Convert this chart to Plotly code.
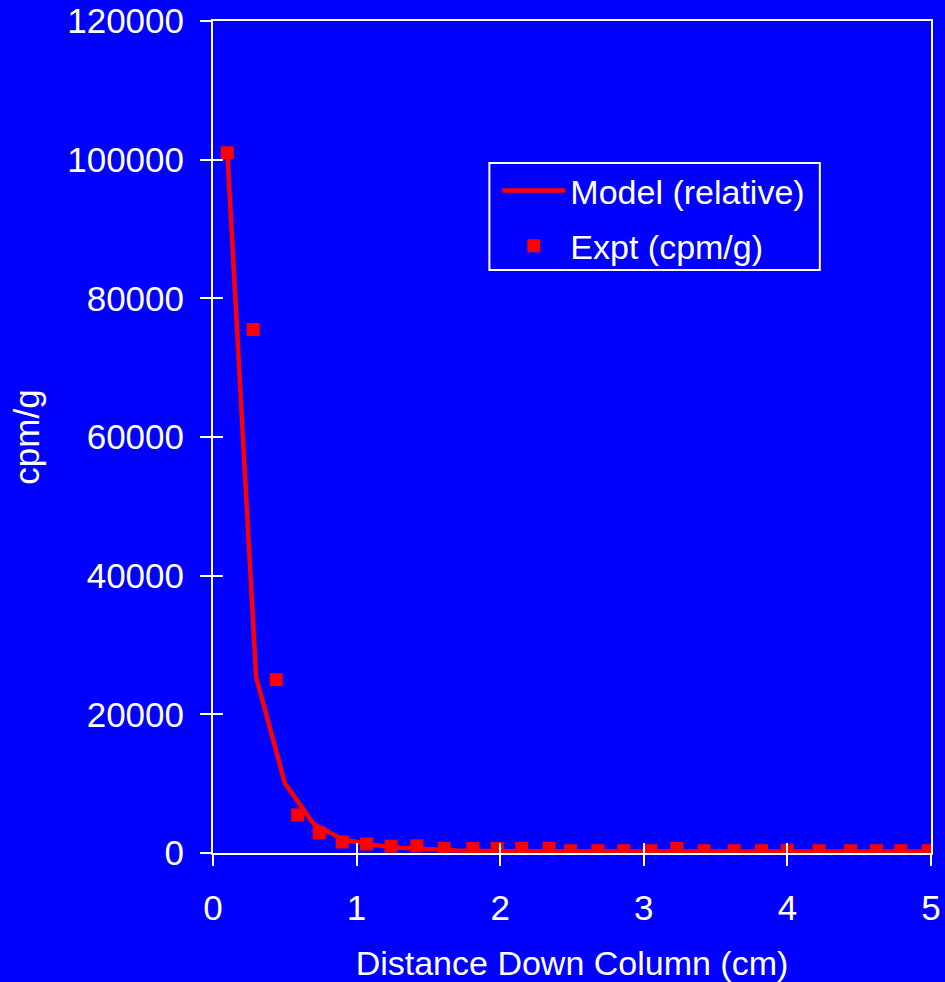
import plotly.graph_objects as go

# Experimental activity along the column (cpm/g)
expt_x = [0.10, 0.28, 0.44, 0.59, 0.74, 0.90, 1.07, 1.24, 1.42, 1.61, 1.81, 1.98,
          2.15, 2.34, 2.49, 2.68, 2.86, 3.05, 3.23, 3.42, 3.63, 3.82, 4.00, 4.22,
          4.44, 4.62, 4.79, 4.98]
expt_y = [101000, 75500, 25000, 5500, 2900, 1600, 1300, 980, 1030, 640, 640, 660,
          680, 680, 330, 330, 330, 330, 680, 330, 330, 330, 330, 330,
          330, 330, 330, 330]

# Model curve (relative scale)
model_x = [0.1, 0.3, 0.5, 0.7, 0.9, 1.1, 1.3, 1.5, 1.7, 2.0, 2.5, 3.0, 3.5, 4.0, 4.5, 5.0]
model_y = [101000, 25400, 10100, 4200, 2000, 1200, 750, 500, 350, 250, 200, 200, 200, 200, 200, 200]

x_ticks = [0, 1, 2, 3, 4, 5]
y_ticks = [0, 20000, 40000, 60000, 80000, 100000, 120000]

BLUE = "#0000FF"
RED = "#FF0000"
WHITE = "#FFFFFF"
FONT = "Liberation Sans, Arial, sans-serif"
FS = 35

fig = go.Figure()
fig.add_trace(go.Scatter(x=model_x, y=model_y, mode="lines", name="Model (relative)",
                         legendgroup="model",
                         line=dict(color=RED, width=4.5)))
fig.add_trace(go.Scatter(x=expt_x, y=expt_y, mode="markers", name="Expt (cpm/g)",
                         legendgroup="expt",
                         marker=dict(color=RED, symbol="square", size=13, line=dict(width=0))))
# invisible trace to carry the secondary (inside-tick) axes
fig.add_trace(go.Scatter(x=[0], y=[0], xaxis="x2", yaxis="y2", mode="markers",
                         marker=dict(opacity=0), showlegend=False, hoverinfo="skip"))

axis_common = dict(showgrid=False, zeroline=False, linecolor=WHITE, linewidth=2,
                   tickcolor=WHITE, tickwidth=2, color=WHITE, automargin=False,
                   tickfont=dict(family=FONT, size=FS, color=WHITE))

fig.update_layout(
    width=945, height=982,
    margin=dict(l=213, r=14, t=21, b=129),
    paper_bgcolor=BLUE, plot_bgcolor=BLUE,
    font=dict(family=FONT, size=FS, color=WHITE),
    xaxis=dict(range=[0, 5], tickvals=x_ticks, ticks="outside", ticklen=11,
               mirror=True, showline=True, ticklabelstandoff=12,
               title=dict(text="Distance Down Column (cm)", font=dict(size=34), standoff=27),
               **axis_common),
    yaxis=dict(range=[0, 120000], tickvals=y_ticks, ticks="outside", ticklen=11,
               mirror=True, showline=True, tickformat="d", ticklabelstandoff=9,
               title=dict(text="cpm/g", font=dict(size=FS), standoff=17),
               **axis_common),
    xaxis2=dict(range=[0, 5], tickvals=x_ticks, ticks="inside", ticklen=10,
                overlaying="x", anchor="y", showline=False, showticklabels=False,
                showgrid=False, zeroline=False, tickcolor=WHITE, tickwidth=2,
                automargin=False),
    yaxis2=dict(range=[0, 120000], tickvals=y_ticks, ticks="inside", ticklen=10,
                overlaying="y", anchor="x", showline=False, showticklabels=False,
                showgrid=False, zeroline=False, tickcolor=WHITE, tickwidth=2,
                automargin=False),
    legend=dict(x=0.396, y=0.8305, xanchor="left", yanchor="top",
                bgcolor="rgba(0,0,0,0)", borderwidth=0,
                font=dict(family=FONT, size=34, color=WHITE),
                itemwidth=63, traceorder="grouped", tracegroupgap=8),
    showlegend=True,
    shapes=[
        # legend frame
        dict(type="rect", xref="paper", yref="paper",
             x0=(489 - 213) / 717, x1=(819 - 213) / 717,
             y0=(853 - 270) / 832, y1=(853 - 163) / 832,
             line=dict(color=WHITE, width=2), fillcolor="rgba(0,0,0,0)", layer="above"),
    ],
)

fig.write_html("out.html")
